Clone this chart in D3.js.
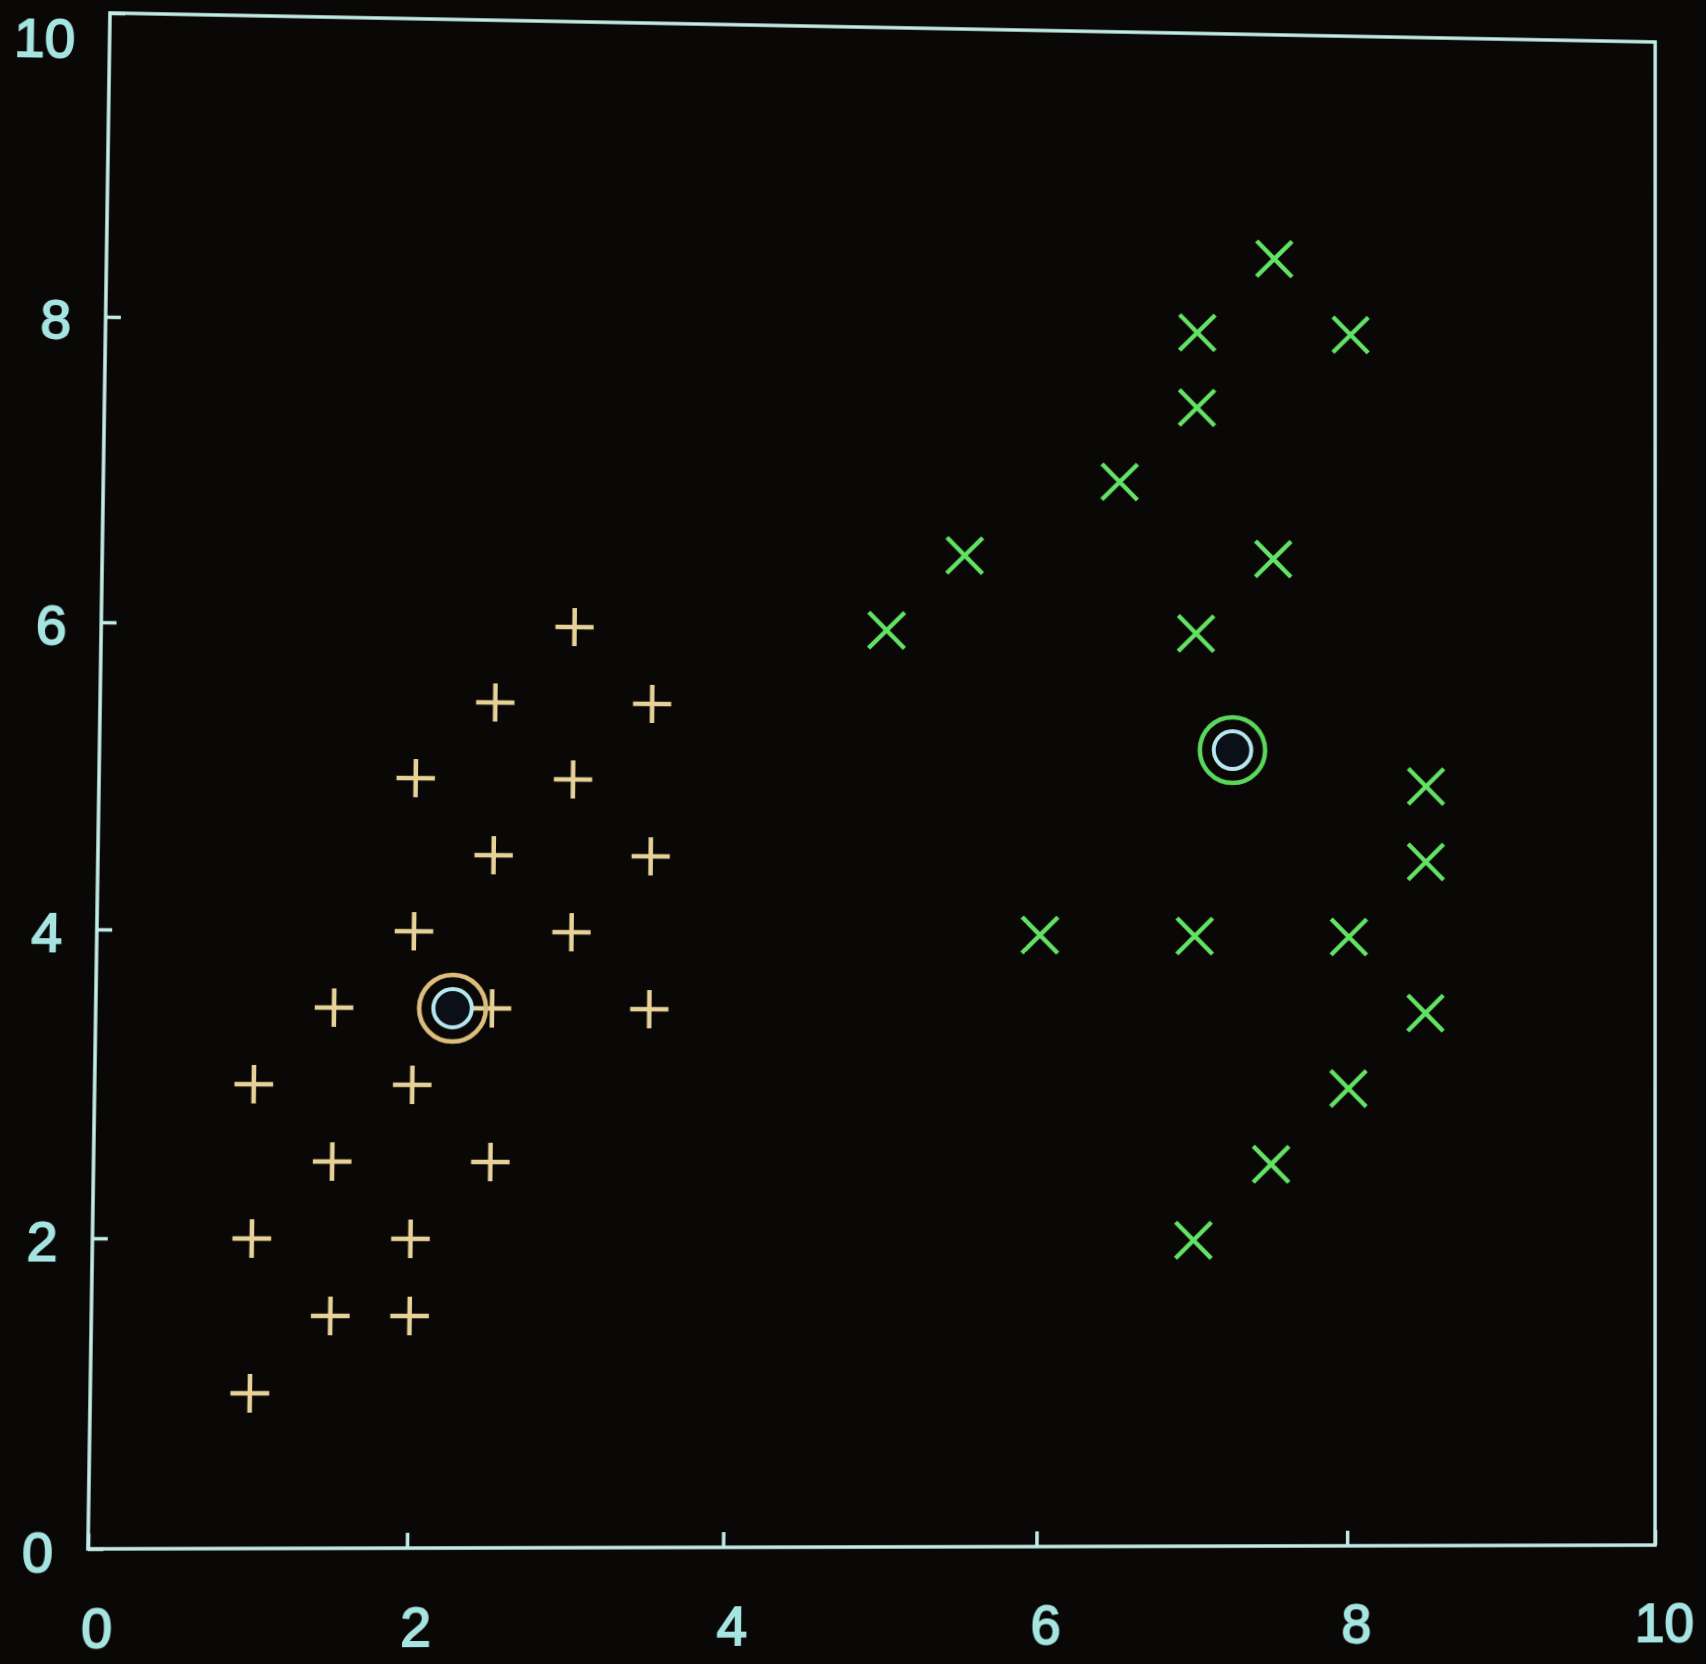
<!DOCTYPE html>
<html>
<head>
<meta charset="utf-8">
<script src="https://cdn.jsdelivr.net/npm/d3@7"></script>
<style>
  html, body { margin: 0; padding: 0; background: #0a0707; overflow: hidden; }
  #chart { display: block; transform-origin: 0 0; }
</style>
</head>
<body>
<svg id="chart"></svg>
<script>
// Cluster A: plus markers
const clusterAX = [3, 2.5, 3.5, 2, 3, 2.5, 3.5, 2, 3, 1.5, 2.5, 3.5, 1, 2, 1.5, 2.5, 1, 2, 1.5, 2, 1];
const clusterAY = [6, 5.5, 5.5, 5, 5, 4.5, 4.5, 4, 4, 3.5, 3.5, 3.5, 3, 3, 2.5, 2.5, 2, 2, 1.5, 1.5, 1];
// Cluster B: cross markers
const clusterBX = [7.5, 7, 8, 7, 6.5, 5.5, 7.5, 5, 7, 8.5, 8.5, 6, 7, 8, 8.5, 8, 7.5, 7];
const clusterBY = [8.5, 8, 8, 7.5, 7, 6.5, 6.5, 6, 6, 5, 4.5, 4, 4, 4, 3.5, 3, 2.5, 2];
// Cluster centres (A, B)
const centroidX = [2.25, 7.24];
const centroidY = [3.5, 5.23];
// Axis ticks
const xTicks = [0, 2, 4, 6, 8, 10];
const yTicks = [0, 2, 4, 6, 8, 10];

const W = 1706, H = 1664;
const L = 96, T = 28, R = 1655, B = 1548;

const frameColor = "#c2ebe6";
const labelColor = "#a6e4e2";
const colA = "#e6d196", colB = "#62e262";
const ringA = "#dcbd7c", ringB = "#5ad75a", innerRing = "#b6e6f0";

const svg = d3.select("#chart").attr("width", W).attr("height", H);

const x = d3.scaleLinear().domain([0, 10]).range([L, R]);
const y = d3.scaleLinear().domain([0, 10]).range([B, T]);

// axes with inward ticks
const xAxis = svg.append("g").attr("transform", `translate(0,${B})`)
  .call(d3.axisBottom(x).tickValues(xTicks).tickSize(-15).tickPadding(58).tickFormat(d3.format("d")));
const yAxis = svg.append("g").attr("transform", `translate(${L},0)`)
  .call(d3.axisLeft(y).tickValues(yTicks).tickSize(-15).tickPadding(34).tickFormat(d3.format("d")));

[xAxis, yAxis].forEach(a => {
  a.select(".domain").remove();
  a.selectAll(".tick line").attr("stroke", frameColor).attr("stroke-width", 3.5);
  a.selectAll(".tick text")
    .attr("fill", labelColor)
    .attr("font-family", "'Liberation Sans', Arial, sans-serif")
    .attr("font-size", 54)
    .attr("stroke", labelColor).attr("stroke-width", 1.8);
});
xAxis.selectAll(".tick text").attr("dx", 9);
// top label sits right at the upper edge; keep it inside the page
yAxis.selectAll(".tick text").attr("dy", d => d === 10 ? "0.82em" : "0.4em");

// plot frame
svg.append("rect")
  .attr("x", x(0)).attr("y", y(10))
  .attr("width", x(10) - x(0)).attr("height", y(0) - y(10))
  .attr("fill", "none").attr("stroke", frameColor).attr("stroke-width", 3.5);

// cluster A: plus signs
const plusArm = 19;
const ptsA = clusterAX.map((v, i) => [v, clusterAY[i]]);
svg.append("g").selectAll("path").data(ptsA).join("path")
  .attr("d", d => `M${x(d[0]) - plusArm},${y(d[1])}h${2 * plusArm}M${x(d[0])},${y(d[1]) - plusArm}v${2 * plusArm}`)
  .attr("stroke", colA).attr("stroke-width", 4.5).attr("fill", "none");

// cluster B: crosses
const crossArm = 18;
const ptsB = clusterBX.map((v, i) => [v, clusterBY[i]]);
svg.append("g").selectAll("path").data(ptsB).join("path")
  .attr("d", d => `M${x(d[0]) - crossArm},${y(d[1]) - crossArm}l${2 * crossArm},${2 * crossArm}M${x(d[0]) - crossArm},${y(d[1]) + crossArm}l${2 * crossArm},${-2 * crossArm}`)
  .attr("stroke", colB).attr("stroke-width", 4.5).attr("fill", "none");

// centres: outer ring in cluster colour, inner light ring
const cents = centroidX.map((v, i) => ({ x: v, y: centroidY[i], c: i === 0 ? ringA : ringB }));
const cg = svg.append("g").selectAll("g").data(cents).join("g");
cg.append("circle")
  .attr("cx", d => x(d.x)).attr("cy", d => y(d.y)).attr("r", 33)
  .attr("fill", "none").attr("stroke", d => d.c).attr("stroke-width", 4.5);
cg.append("circle")
  .attr("cx", d => x(d.x)).attr("cy", d => y(d.y)).attr("r", 19)
  .attr("fill", "#0b1018").attr("stroke", innerRing).attr("stroke-width", 4);

// projective warp of the flat drawing onto the screen quad (TL, TR, BR, BL)
const quad = [[110, 13], [1655, 42], [1655, 1545], [88, 1549]];
function squareToQuad(q) {
  const [x0, y0] = q[0], [x1, y1] = q[1], [x2, y2] = q[2], [x3, y3] = q[3];
  const sx = x0 - x1 + x2 - x3, sy = y0 - y1 + y2 - y3;
  const dx1 = x1 - x2, dx2 = x3 - x2, dy1 = y1 - y2, dy2 = y3 - y2;
  const den = dx1 * dy2 - dx2 * dy1;
  const g = (sx * dy2 - dx2 * sy) / den, h = (dx1 * sy - sx * dy1) / den;
  return [[x1 - x0 + g * x1, x3 - x0 + h * x3, x0],
          [y1 - y0 + g * y1, y3 - y0 + h * y3, y0],
          [g, h, 1]];
}
function mul(a, b) {
  return a.map((row, i) => [0, 1, 2].map(j => row[0] * b[0][j] + row[1] * b[1][j] + row[2] * b[2][j]));
}
const Wf = R - L, Hf = B - T;
const S = [[1 / Wf, 0, -L / Wf], [0, 1 / Hf, -T / Hf], [0, 0, 1]];
const M = mul(squareToQuad(quad), S);
const k = M[2][2];
const m = M.map(r => r.map(v => v / k));
d3.select("#chart").style("transform",
  `matrix3d(${m[0][0]},${m[1][0]},0,${m[2][0]},${m[0][1]},${m[1][1]},0,${m[2][1]},0,0,1,0,${m[0][2]},${m[1][2]},0,${m[2][2]})`);
</script>
</body>
</html>
